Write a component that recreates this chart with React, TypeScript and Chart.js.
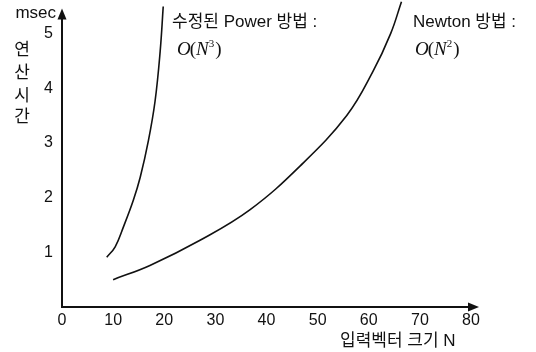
import React, { useEffect, useRef } from "react";
import { Chart, registerables } from "chart.js";

Chart.register(...registerables);

// Data
const powerN = [8.75, 10.4, 12.0, 13.95, 15.3, 16.9, 18.2, 19.2, 19.8];
const powerTime = [0.91, 1.1, 1.46, 1.95, 2.37, 3.04, 3.76, 4.67, 5.49];
const newtonN = [10, 17.2, 27, 36.8, 46.6, 55.7, 60.8, 64.3, 66.4];
const newtonTime = [0.5, 0.76, 1.22, 1.78, 2.58, 3.5, 4.3, 5.0, 5.58];

const xMin = 0;
const xMax = 80;
const xStep = 10;
const yMin = 0;
const yMax = 5.27;
const yStep = 1;

const yTitleChars = ["연", "산", "시", "간"];
const xTitle = "입력벡터 크기 N";
const yUnit = "msec";
const powerLabel = "수정된 Power 방법 :";
const newtonLabel = "Newton 방법 :";
const powerOrder = "3";
const newtonOrder = "2";

const SANS = '"Liberation Sans", "Noto Sans CJK KR", sans-serif';
const SERIF = '"Liberation Serif", "DejaVu Serif", serif';
const INK = "#111";

function drawBigO(ctx: CanvasRenderingContext2D, x: number, y: number, exp: string) {
  ctx.textAlign = "left";
  ctx.textBaseline = "alphabetic";
  let cx = x;
  const part = (t: string, font: string, dy = 0) => {
    ctx.font = font;
    ctx.fillText(t, cx, y + dy);
    cx += ctx.measureText(t).width;
  };
  part("O", `italic 19px ${SERIF}`);
  cx -= 1;
  part("(", `19px ${SERIF}`);
  part("N", `italic 19px ${SERIF}`);
  part(exp, `11px ${SERIF}`, -8);
  cx += 1;
  part(")", `19px ${SERIF}`);
}

const decorPlugin = {
  id: "decor",
  afterDraw(chart: any) {
    const ctx: CanvasRenderingContext2D = chart.ctx;
    const { left, top, right, bottom } = chart.chartArea;
    ctx.save();
    ctx.fillStyle = INK;
    ctx.strokeStyle = INK;
    // y arrow
    ctx.beginPath();
    ctx.moveTo(left, top - 10);
    ctx.lineTo(left - 4.5, top + 1);
    ctx.lineTo(left + 4.5, top + 1);
    ctx.closePath();
    ctx.fill();
    // x arrow
    ctx.beginPath();
    ctx.moveTo(right + 8, bottom);
    ctx.lineTo(right - 3, bottom - 4.5);
    ctx.lineTo(right - 3, bottom + 4.5);
    ctx.closePath();
    ctx.fill();

    // unit
    ctx.font = `17px ${SANS}`;
    ctx.textAlign = "right";
    ctx.textBaseline = "alphabetic";
    ctx.fillText(yUnit, left - 6, 18);

    // y title stacked
    ctx.textAlign = "center";
    ctx.textBaseline = "middle";
    const ys = [50, 73, 96, 117];
    yTitleChars.forEach((c, i) => ctx.fillText(c, 22, ys[i]));

    // x title
    ctx.textAlign = "left";
    ctx.textBaseline = "alphabetic";
    ctx.fillText(xTitle, 340, 346);

    // annotations
    ctx.fillText(powerLabel, 172, 27);
    ctx.fillText(newtonLabel, 413, 27);
    drawBigO(ctx, 177, 55, powerOrder);
    drawBigO(ctx, 415, 55, newtonOrder);
    ctx.restore();
  },
};

export default function App() {
  const ref = useRef<HTMLCanvasElement | null>(null);
  useEffect(() => {
    document.body.style.margin = "0";
    const canvas = ref.current;
    if (!canvas) return;
    const chart = new Chart(canvas, {
      type: "line",
      data: {
        datasets: [
          {
            label: "Power",
            data: powerN.map((n, i) => ({ x: n, y: powerTime[i] })),
            borderColor: INK,
            borderWidth: 1.6,
            pointRadius: 0,
            tension: 0.4,
            clip: false as any,
            fill: false,
          },
          {
            label: "Newton",
            data: newtonN.map((n, i) => ({ x: n, y: newtonTime[i] })),
            borderColor: INK,
            borderWidth: 1.6,
            pointRadius: 0,
            tension: 0.4,
            clip: false as any,
            fill: false,
          },
        ],
      },
      options: {
        responsive: false,
        animation: false,
        layout: { padding: { top: 17, right: 65, left: 0, bottom: 0 } },
        plugins: { legend: { display: false }, tooltip: { enabled: false } },
        scales: {
          x: {
            type: "linear",
            min: xMin,
            max: xMax,
            grid: { display: true, color: "transparent", drawTicks: false },
            border: { display: true, color: INK, width: 2 },
            ticks: {
              stepSize: xStep,
              padding: 4,
              color: INK,
              font: { family: SANS, size: 16 },
              maxRotation: 0,
              autoSkip: false,
            },
            afterFit: (s: any) => {
              s.height = 45;
            },
          },
          y: {
            type: "linear",
            min: yMin,
            max: yMax,
            grid: { display: true, color: "transparent", drawTicks: false },
            border: { display: true, color: INK, width: 2 },
            ticks: {
              stepSize: yStep,
              includeBounds: false,
              padding: 9,
              color: INK,
              font: { family: SANS, size: 16 },
              callback: (v: any) => (v === 0 ? "" : String(v)),
            },
            afterFit: (s: any) => {
              s.width = 62;
            },
          },
        },
      },
      plugins: [decorPlugin],
    });
    return () => chart.destroy();
  }, []);
  return (
    <div style={{ width: 536, height: 352 }}>
      <canvas ref={ref} width={536} height={352} />
    </div>
  );
}
